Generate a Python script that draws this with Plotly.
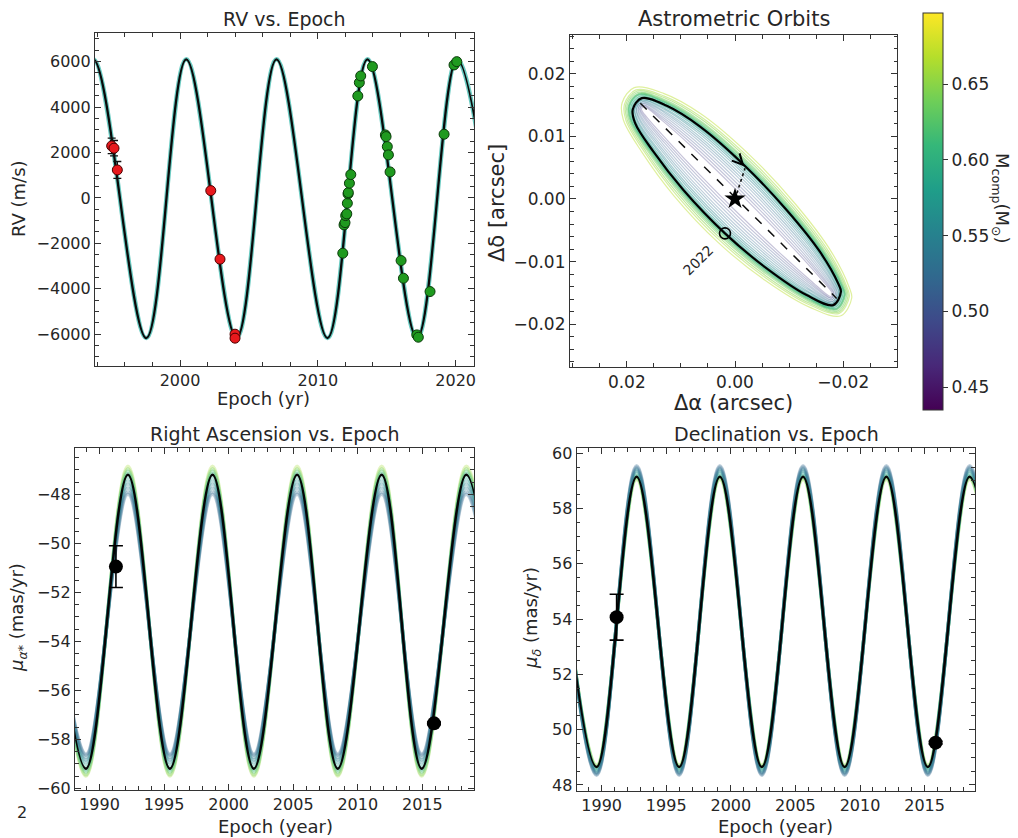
import plotly.graph_objects as go
from plotly.colors import sample_colorscale

W, H = 1018, 838
FONT = "DejaVu Sans"
TXT = "#262626"
AX = "#333333"

# ---------------- RV panel data ----------------
rv_red_epoch = [1995.04, 1995.21, 1995.45, 2002.23, 2002.90, 2003.99, 2003.99]
rv_red_val = [2289, 2188, 1232, 321, -2698, -5999, -6175]
rv_red_err = [340, 340, 370, 60, 60, 60, 60]

rv_green_epoch = [2011.81, 2011.90, 2011.97, 2012.02, 2012.10, 2012.14, 2012.19, 2012.21,
                  2012.29, 2012.39, 2012.90, 2013.01, 2013.11, 2013.96, 2014.90, 2014.95,
                  2015.04, 2015.12, 2015.24, 2016.04, 2016.21, 2017.18, 2017.29, 2018.14,
                  2019.16, 2019.88, 2020.08]
rv_green_val = [-2435, -1188, -1087, -779, -704, -235, 176, 235, 647, 1027, 4489, 5077,
                5370, 5781, 2773, 2700, 2259, 1893, 1144, -2758, -3536, -6030, -6133,
                -4123, 2803, 5854, 5999]

# model curve extrema (epoch, RV)
rv_model_epoch = [1990.5, 1993.7, 1997.55, 2000.45, 2004.1, 2007.0, 2010.7, 2013.6,
                  2017.2, 2020.1, 2023.6]
rv_model_val = [-6170, 6100, -6170, 6100, -6170, 6100, -6170, 6100, -6170, 6100, -6170]

# ---------------- proper-motion panels ----------------
ra_obs_epoch = [1991.27, 2015.90]
ra_obs_val = [-50.95, -57.35]
ra_obs_err = [0.85, 0.05]

dec_obs_epoch = [1991.16, 2015.85]
dec_obs_val = [54.07, 49.53]
dec_obs_err = [0.83, 0.05]

# extrema of best-fit curves (alternating peak / trough)
ra_model_epoch = [1985.7, 1988.95, 1992.2, 1995.45, 1998.75, 2001.95, 2005.3, 2008.45,
                  2011.85, 2014.95, 2018.4, 2021.5]
ra_model_val = [-47.2, -59.2, -47.2, -59.2, -47.2, -59.2, -47.2, -59.2, -47.2, -59.2,
                -47.2, -59.2]

dec_model_epoch = [1986.27, 1989.61, 1992.71, 1996.0, 1999.15, 2002.4, 2005.59, 2008.81,
                   2012.04, 2015.25, 2018.48, 2021.7]
dec_model_val = [59.15, 48.65, 59.15, 48.65, 59.15, 48.65, 59.15, 48.65, 59.15, 48.65,
                 59.15, 48.65]

post_mass = [0.66, 0.64, 0.62, 0.60, 0.58, 0.56, 0.55, 0.54, 0.53, 0.52]
post_ra_peak = [-46.85, -46.95, -47.05, -47.15, -47.3, -47.45, -47.6, -47.75, -47.9, -48.0]
post_ra_trough = [-59.5, -59.45, -59.35, -59.25, -59.1, -58.95, -58.85, -58.75, -58.65, -58.6]
post_dec_peak = [59.05, 59.1, 59.15, 59.2, 59.28, 59.35, 59.4, 59.45, 59.5, 59.55]
post_dec_trough = [48.72, 48.68, 48.64, 48.6, 48.55, 48.5, 48.45, 48.42, 48.38, 48.35]

# ---------------- astrometric orbit ----------------
orbit_dra = [0.01889, 0.01723, 0.01261, 0.00646, -0.00185, -0.00954, -0.01569, -0.01907,
             -0.01957, -0.01815, -0.01323, -0.00585, 0.00185, 0.00954, 0.01508, 0.01846]
orbit_ddec = [0.01435, 0.01611, 0.01488, 0.01157, 0.00528, -0.00176, -0.00843, -0.01349,
              -0.01483, -0.01696, -0.01536, -0.01109, -0.00549, 0.00144, 0.00757, 0.01211]
orbit_center = [-0.0003, -0.0003]
nodes_dra = [0.0175, -0.0188]
nodes_ddec = [0.0153, -0.0159]
star_pos = [0.0, 0.0]
peri_pos = [-0.00185, 0.0049]
arrow_tip = [-0.00175, 0.0052]
arrow_tail = [0.0004, 0.0072]
pos_2022 = [0.00185, -0.00549]
label_2022 = [0.0068, -0.0097]

orbit_post_mass = [0.67, 0.66, 0.65, 0.64, 0.63, 0.62, 0.61, 0.60, 0.59, 0.58, 0.57,
                   0.56, 0.55, 0.54, 0.53, 0.52, 0.51, 0.50, 0.49, 0.48]
orbit_post_smaj = [1.09, 1.07, 1.06, 1.05, 1.04, 1.035, 1.03, 1.02, 1.01, 1.0, 1.0,
                   0.99, 0.99, 0.98, 0.98, 0.97, 0.97, 0.96, 0.96, 0.95]
orbit_post_smin = [1.36, 1.28, 1.22, 1.16, 1.12, 1.08, 1.05, 1.02, 0.99, 0.95, 0.9,
                   0.84, 0.78, 0.71, 0.64, 0.57, 0.49, 0.41, 0.33, 0.25]
orbit_post_alpha = [0.45, 0.45, 0.5, 0.5, 0.55, 0.6, 0.6, 0.6, 0.6, 0.55, 0.5,
                    0.45, 0.4, 0.35, 0.35, 0.3, 0.3, 0.3, 0.3, 0.3]

CMIN, CMAX = 0.435, 0.697
cbar_ticks = [0.45, 0.50, 0.55, 0.60, 0.65]


def vcolor(m):
    return sample_colorscale("Viridis", [(m - CMIN) / (CMAX - CMIN)])[0]


def alternate(epochs, pk, tr):
    return [pk if i % 2 == 0 else tr for i in range(len(epochs))]


fig = go.Figure()

# ---------------- RV panel ----------------
fig.add_trace(go.Scatter(x=rv_model_epoch, y=rv_model_val, mode="lines",
                         line=dict(color="#2bb5a8", width=4.5, shape="spline", smoothing=1),
                         opacity=0.7, xaxis="x", yaxis="y", showlegend=False, hoverinfo="skip"))
fig.add_trace(go.Scatter(x=rv_model_epoch, y=rv_model_val, mode="lines",
                         line=dict(color="#0a0a0a", width=2.3, shape="spline", smoothing=1),
                         xaxis="x", yaxis="y", showlegend=False))
fig.add_trace(go.Scatter(x=rv_red_epoch, y=rv_red_val, mode="markers",
                         error_y=dict(type="data", array=rv_red_err, color="#111", thickness=1.3, width=4),
                         marker=dict(color="#e8191d", size=10, line=dict(color="#4a0000", width=1)),
                         xaxis="x", yaxis="y", showlegend=False))
fig.add_trace(go.Scatter(x=rv_green_epoch, y=rv_green_val, mode="markers",
                         marker=dict(color="#1f9a1f", size=10, line=dict(color="#0b3a0b", width=1)),
                         xaxis="x", yaxis="y", showlegend=False))

# ---------------- posterior curves RA / Dec ----------------
for i, m in enumerate(post_mass):
    c = vcolor(m)
    fig.add_trace(go.Scatter(x=ra_model_epoch, y=alternate(ra_model_epoch, post_ra_peak[i], post_ra_trough[i]),
                             mode="lines", line=dict(color=c, width=3.5, shape="spline", smoothing=1),
                             opacity=0.3, xaxis="x3", yaxis="y3", showlegend=False, hoverinfo="skip"))
    fig.add_trace(go.Scatter(x=dec_model_epoch, y=alternate(dec_model_epoch, post_dec_peak[i], post_dec_trough[i]),
                             mode="lines", line=dict(color=c, width=3.5, shape="spline", smoothing=1),
                             opacity=0.3, xaxis="x4", yaxis="y4", showlegend=False, hoverinfo="skip"))

fig.add_trace(go.Scatter(x=ra_model_epoch, y=ra_model_val, mode="lines",
                         line=dict(color="#050505", width=2.5, shape="spline", smoothing=1),
                         xaxis="x3", yaxis="y3", showlegend=False))
fig.add_trace(go.Scatter(x=dec_model_epoch, y=dec_model_val, mode="lines",
                         line=dict(color="#050505", width=2.5, shape="spline", smoothing=1),
                         xaxis="x4", yaxis="y4", showlegend=False))
fig.add_trace(go.Scatter(x=ra_obs_epoch, y=ra_obs_val, mode="markers",
                         error_y=dict(type="data", array=ra_obs_err, color="#000", thickness=1.6, width=7),
                         marker=dict(color="#000", size=14), xaxis="x3", yaxis="y3", showlegend=False))
fig.add_trace(go.Scatter(x=dec_obs_epoch, y=dec_obs_val, mode="markers",
                         error_y=dict(type="data", array=dec_obs_err, color="#000", thickness=1.6, width=7),
                         marker=dict(color="#000", size=14), xaxis="x4", yaxis="y4", showlegend=False))

# ---------------- orbit panel ----------------
ax_dx = nodes_dra[0] - nodes_dra[1]
ax_dy = nodes_ddec[0] - nodes_ddec[1]
nrm = (ax_dx ** 2 + ax_dy ** 2) ** 0.5
e1 = (ax_dx / nrm, ax_dy / nrm)
e2 = (-e1[1], e1[0])
for m, sa, sb, al in zip(orbit_post_mass, orbit_post_smaj, orbit_post_smin, orbit_post_alpha):
    xs, ys = [], []
    for px, py in zip(orbit_dra + orbit_dra[:1], orbit_ddec + orbit_ddec[:1]):
        dx, dy = px - orbit_center[0], py - orbit_center[1]
        u = dx * e1[0] + dy * e1[1]
        v = dx * e2[0] + dy * e2[1]
        xs.append(orbit_center[0] + sa * u * e1[0] + sb * v * e2[0])
        ys.append(orbit_center[1] + sa * u * e1[1] + sb * v * e2[1])
    fig.add_trace(go.Scatter(x=xs, y=ys, mode="lines",
                             line=dict(color=vcolor(m), width=1.2, shape="spline", smoothing=1),
                             opacity=al, xaxis="x2", yaxis="y2", showlegend=False, hoverinfo="skip"))

fig.add_trace(go.Scatter(x=orbit_dra + orbit_dra[:1], y=orbit_ddec + orbit_ddec[:1], mode="lines",
                         line=dict(color="#000", width=2.2, shape="spline", smoothing=1),
                         xaxis="x2", yaxis="y2", showlegend=False))
fig.add_trace(go.Scatter(x=nodes_dra, y=nodes_ddec, mode="lines",
                         line=dict(color="#111", width=1.5, dash="dash"),
                         xaxis="x2", yaxis="y2", showlegend=False))
fig.add_trace(go.Scatter(x=[star_pos[0], peri_pos[0]], y=[star_pos[1], peri_pos[1]], mode="lines",
                         line=dict(color="#111", width=1.6, dash="dot"),
                         xaxis="x2", yaxis="y2", showlegend=False))
fig.add_trace(go.Scatter(x=[star_pos[0]], y=[star_pos[1]], mode="markers",
                         marker=dict(symbol="star", size=16, color="#000"),
                         xaxis="x2", yaxis="y2", showlegend=False))
fig.add_trace(go.Scatter(x=[pos_2022[0]], y=[pos_2022[1]], mode="markers",
                         marker=dict(symbol="circle-open", size=11, color="#000", line=dict(width=1.6)),
                         xaxis="x2", yaxis="y2", showlegend=False))
# colorbar carrier
fig.add_trace(go.Scatter(x=[star_pos[0]], y=[star_pos[1]], mode="markers",
                         marker=dict(color=[0.55], colorscale="Viridis", cmin=CMIN, cmax=CMAX, size=1, opacity=0,
                                     showscale=True,
                                     colorbar=dict(x=922.7 / W, xanchor="left", y=1 - 410 / H, yanchor="bottom",
                                                   len=(410 - 13.3) / H, lenmode="fraction",
                                                   thickness=19.6, thicknessmode="pixels", xpad=0, ypad=0,
                                                   outlinewidth=1, outlinecolor=AX,
                                                   ticks="outside", ticklen=5, tickcolor=AX,
                                                   tickvals=cbar_ticks, tickformat=".2f",
                                                   tickfont=dict(size=17, color=TXT, family=FONT))),
                         xaxis="x2", yaxis="y2", showlegend=False, hoverinfo="skip"))


def px_x(p):
    return p / W


def px_y(p):
    return 1 - p / H


def axis(domain, rng, dtick, tick0, mdtick, anchor, fmt=None, size=16):
    d = dict(domain=domain, range=rng, dtick=dtick, tick0=tick0, tickmode="linear",
             showline=True, linecolor=AX, linewidth=1.2, mirror="allticks",
             ticks="inside", ticklen=6, tickwidth=1.2, tickcolor=AX,
             showgrid=False, zeroline=False, anchor=anchor, automargin=False,
             tickfont=dict(size=size, color=TXT, family=FONT),
             minor=dict(ticks="inside", ticklen=3.5, tickwidth=1, tickcolor=AX, dtick=mdtick, tick0=tick0,
                        showgrid=False))
    if fmt:
        d["tickformat"] = fmt
    return d


fig.update_layout(
    width=W, height=H, template="none",
    margin=dict(l=0, r=0, t=0, b=0, pad=0),
    paper_bgcolor="white", plot_bgcolor="white",
    font=dict(family=FONT, color=TXT),
    showlegend=False,
    xaxis=axis([px_x(95), px_x(474)], [1993.83, 2021.33], 10, 2000, 2, "y", "d"),
    yaxis=axis([px_y(366), px_y(33)], [-7400, 7260], 2000, 0, 500, "x", "d"),
    xaxis2=axis([px_x(570), px_x(897.3)], [0.0305, -0.0300], 0.02, 0, 0.005, "y2", ".2f", 17),
    yaxis2=axis([px_y(366.7), px_y(35)], [-0.0268, 0.0262], 0.01, 0, 0.002, "x2", ".2f", 17),
    xaxis3=axis([px_x(75), px_x(474)], [1988.1, 2019.0], 5, 1990, 1, "y3", "d"),
    yaxis3=axis([px_y(790), px_y(448.3)], [-60.07, -46.12], 2, -60, 0.5, "x3", "d"),
    xaxis4=axis([px_x(576.7), px_x(975)], [1988.07, 2018.9], 5, 1990, 1, "y4", "d"),
    yaxis4=axis([px_y(791), px_y(448.3)], [47.78, 60.18], 2, 48, 0.5, "x4", "d"),
)


def note(text, x, y, size, angle=0, color=TXT):
    fig.add_annotation(text=text, x=px_x(x), y=px_y(y), xref="paper", yref="paper",
                       xanchor="center", yanchor="middle", showarrow=False, textangle=angle,
                       font=dict(size=size, color=color, family=FONT))


note("RV vs. Epoch", 284, 19, 19)
note("Epoch (yr)", 263, 398, 18)
note("RV (m/s)", 18, 199, 18, -90)
note("Astrometric Orbits", 734, 19, 21)
note("Δα (arcsec)", 733, 403, 21)
note("Δδ [arcsec]", 497, 203, 21, -90)
note("M<sub>comp</sub>(M<sub>⊙</sub>)", 1001, 198, 18, 90)
note("Right Ascension vs. Epoch", 274, 434, 19)
note("Epoch (year)", 275, 826, 18)
note("<i>μ</i><sub><i>α*</i></sub> (mas/yr)", 18, 618, 18, -90)
note("Declination vs. Epoch", 776, 434, 19)
note("Epoch (year)", 775, 826, 18)
note("<i>μ</i><sub><i>δ</i></sub> (mas/yr)", 532, 618, 18, -90)
note("2", 22, 812, 16)

# 2022 label and motion arrow on the orbit panel
fig.add_annotation(text="2022", x=label_2022[0], y=label_2022[1], xref="x2", yref="y2",
                   showarrow=False, textangle=-45, font=dict(size=14, color=TXT, family=FONT))
fig.add_annotation(text="", x=arrow_tip[0], y=arrow_tip[1], ax=arrow_tail[0], ay=arrow_tail[1],
                   xref="x2", yref="y2", axref="x2", ayref="y2", showarrow=True,
                   arrowhead=5, arrowsize=1.6, arrowwidth=1.3, arrowcolor="#000")

fig.write_html("out.html", config={"displayModeBar": False},
               post_script="document.body.style.margin='0px';document.body.style.overflow='hidden';")
